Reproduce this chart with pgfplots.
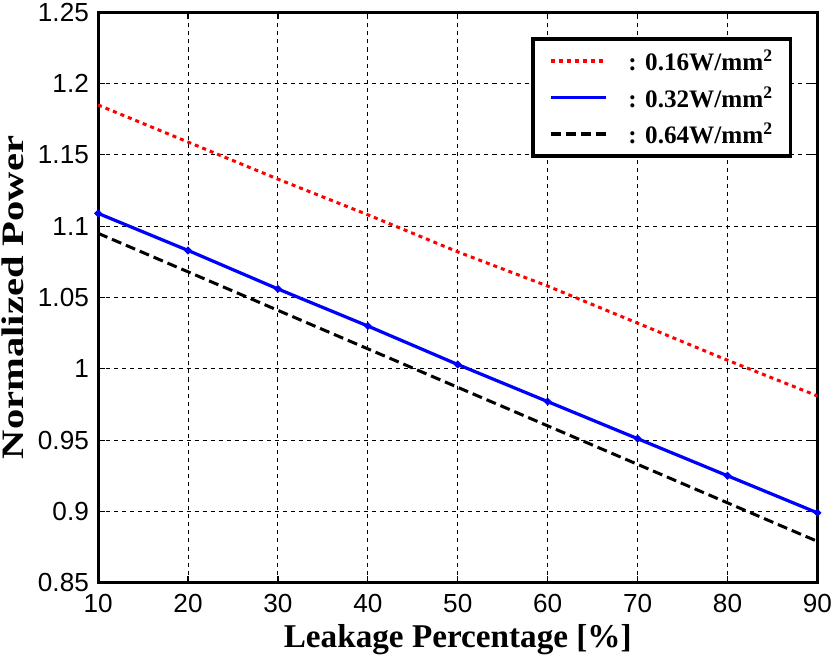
\documentclass[border={0pt 0pt 0pt 3pt}]{standalone}
\usepackage{fontspec}
\setmainfont{Liberation Serif}
\setsansfont{Liberation Sans}
\usepackage{pgfplots}
\pgfplotsset{compat=1.18}
\begin{document}
\begin{tikzpicture}
\begin{axis}[
  width=715pt, height=567pt, scale only axis,
  xmin=10, xmax=90, ymin=0.85, ymax=1.25,
  xtick={10,20,...,90},
  ytick={0.85,0.9,0.95,1,1.05,1.1,1.15,1.2,1.25},
  yticklabels={0.85,0.9,0.95,1,1.05,1.1,1.15,1.2,1.25},
  xticklabels={10,20,30,40,50,60,70,80,90},
  tick align=inside, major tick length=7pt,
  tick style={black, line width=1.2pt},
  axis line style={line width=2.8pt},
  grid=major,
  major grid style={black, line width=1pt, dash pattern=on 4pt off 4pt},
  ticklabel style={font=\sffamily\fontsize{26}{30}\selectfont, inner sep=0pt},
  yticklabel style={xshift=-9pt},
  xticklabel style={yshift=-11pt},
  xlabel={\bfseries\fontsize{33}{38}\selectfont Leakage Percentage [\%]},
  ylabel={\scalebox{1.3}[1]{\bfseries\fontsize{31}{36}\selectfont Normalized Power}},
  xlabel style={at={(axis description cs:0.5,-0.1129)}, anchor=base, inner sep=2pt},
  ylabel style={at={(axis description cs:-0.1035,0.5)}, anchor=base, inner sep=2pt},
  legend style={at={(0.965,0.956)}, anchor=north east, draw=black, line width=3.2pt,
    font=\bfseries\fontsize{25}{28}\selectfont, row sep=10pt, inner xsep=16pt, inner ysep=9pt,
    /tikz/every odd column/.append style={column sep=18pt}},
  legend cell align=left,
  legend image code/.code={\draw[#1, line width=3.8pt] (0pt,0pt) -- (55pt,0pt);},
]
\addplot[red, line width=3pt, dash pattern=on 4pt off 4pt] coordinates {
(10,1.185) (20,1.159) (30,1.133) (40,1.108) (50,1.082) (60,1.058) (70,1.032) (80,1.006) (90,0.981)};
\addlegendentry{: 0.16W/mm\textsuperscript{2}}
\addplot[blue, line width=3.2pt, mark=*, mark size=1.8pt] coordinates {
(10,1.109) (20,1.083) (30,1.056) (40,1.030) (50,1.003) (60,0.977) (70,0.951) (80,0.925) (90,0.899)};
\addlegendentry{: 0.32W/mm\textsuperscript{2}}
\addplot[black, line width=3pt, dash pattern=on 10pt off 5pt] coordinates {
(10,1.095) (20,1.068) (30,1.041) (40,1.014) (50,0.987) (60,0.960) (70,0.933) (80,0.906) (90,0.879)};
\addlegendentry{: 0.64W/mm\textsuperscript{2}}
\end{axis}
\end{tikzpicture}
\end{document}
